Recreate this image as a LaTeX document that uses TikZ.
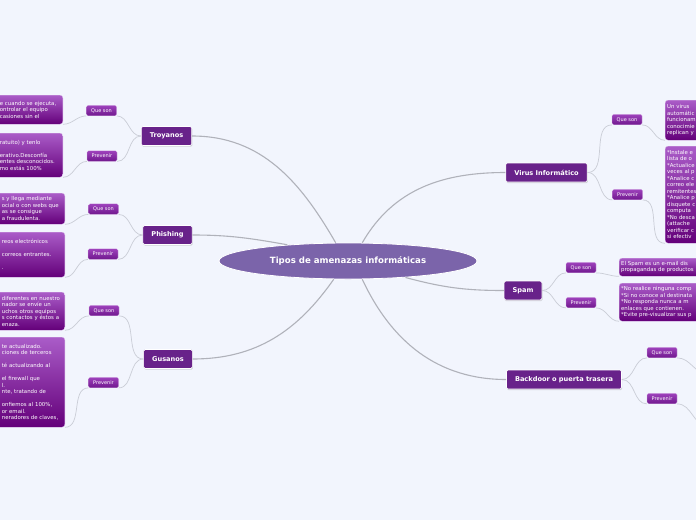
\documentclass[tikz,border=0pt]{standalone}
\usepackage{fontspec}
\setmainfont{DejaVu Sans}
\usetikzlibrary{shapes.geometric,shadows}
\definecolor{PageBg}{RGB}{242,245,253}
\definecolor{RootPurple}{RGB}{123,100,170}
\definecolor{TopicPurple}{RGB}{104,34,138}
\definecolor{TagTop}{RGB}{158,66,188}
\definecolor{TagBottom}{RGB}{112,24,142}
\definecolor{NoteTop}{RGB}{170,92,200}
\definecolor{NoteBottom}{RGB}{100,0,122}
\definecolor{TrunkGray}{RGB}{176,178,186}
\definecolor{TwigGray}{RGB}{202,205,214}

\begin{document}
\begin{tikzpicture}[x=1pt, y=1pt,
    root/.style={ellipse, fill=RootPurple, draw=white, line width=0.8pt, minimum width=258pt, minimum height=36pt, text=white, font=\fontsize{8.6}{10}\selectfont\bfseries},
    topic/.style={fill=TopicPurple, draw=white, line width=0.6pt, rounded corners=1.5pt, minimum height=19pt, inner xsep=8.5pt, text=white, font=\fontsize{6.6}{8}\selectfont\bfseries, drop shadow={shadow xshift=0.6pt, shadow yshift=-1.2pt, opacity=0.3}},
    tag/.style={top color=TagTop, bottom color=TagBottom, draw=white!60!TagTop, line width=0.3pt, rounded corners=1.5pt, minimum width=30pt, minimum height=10.5pt, inner sep=0pt, text=white, font=\fontsize{5}{6}\selectfont},
    note/.style={top color=NoteTop, bottom color=NoteBottom, draw=white!50!NoteTop, line width=0.3pt, rounded corners=3pt, align=left, inner xsep=2pt, inner ysep=2pt, text=white, font=\fontsize{5.4}{6.5}\selectfont},
    cutnote/.style={note, text width=75pt, execute at begin node={\leftskip=14pt}},
    opennote/.style={note, text width=95pt},
    trunk/.style={draw=TrunkGray, line width=1.1pt},
    twig/.style={draw=TwigGray, line width=0.7pt}]

    \fill[PageBg] (0,0) rectangle (696,-520);
    \useasboundingbox (0,0) rectangle (696,-520);
    \clip (0,0) rectangle (696,-520);

    \node[root] (root) at (348,-261) {Tipos de amenazas informáticas};

    \node[topic] (troy) at (166.5,-136) {Troyanos};
    \node[topic] (phish) at (167.5,-235) {Phishing};
    \node[topic] (gus) at (168,-359) {Gusanos};
    \node[topic] (virus) at (546.5,-172.5) {Virus Informático};
    \node[topic] (spam) at (523,-290.5) {Spam};
    \node[topic] (back) at (564,-379.5) {Backdoor o puerta trasera};

    \node[tag] (tq) at (101.5,-110.5) {Que son};
    \node[tag] (tp) at (102,-156) {Prevenir};
    \node[tag] (pq) at (103.5,-209) {Que son};
    \node[tag] (pp) at (103,-254) {Prevenir};
    \node[tag] (gq) at (104,-310.5) {Que son};
    \node[tag] (gp) at (103.5,-382.5) {Prevenir};
    \node[tag] (vq) at (627,-119.5) {Que son};
    \node[tag] (vp) at (627.5,-194.5) {Prevenir};
    \node[tag] (sq) at (581,-267.5) {Que son};
    \node[tag] (sp) at (581,-302.5) {Prevenir};
    \node[tag] (bq) at (662,-352.5) {Que son};
    \node[tag] (bp) at (662,-398.5) {Prevenir};

    % notes cut by the left edge
    \node[cutnote, anchor=north east, minimum height=29pt] (tt1) at (63,-95)
        {e cuando se ejecuta,\\ ontrolar el equipo\\ casiones sin el};
    \node[cutnote, anchor=north east, minimum height=44pt] (tt2) at (63,-133)
        {ratuito) y tenlo\\ \mbox{}\\ erativo.Desconfía\\ entes desconocidos.\\ mo estás 100\%};
    \node[cutnote, anchor=north east, minimum height=31pt] (pt1) at (65,-193)
        {s y llega mediante\\ ocial o con webs que\\ as se consigue\\ a fraudulenta.};
    \node[cutnote, anchor=north east, minimum height=45pt] (pt2) at (65,-232)
        {reos electrónicos\\ \mbox{}\\ correos entrantes.\\ \mbox{}\\ .};
    \node[cutnote, anchor=north east, minimum height=38pt] (gt1) at (65,-292)
        {diferentes en nuestro\\ nador se envíe un\\ uchos otros equipos\\ s contactos y éstos a\\ enaza.};
    \node[cutnote, anchor=north east, minimum height=90pt] (gt2) at (65,-337)
        {te actualizado.\\ ciones de terceros\\ \mbox{}\\ té actualizando al\\ \mbox{}\\ el firewall que\\ l.\\ nte, tratando de\\ \mbox{}\\ onfiemos al 100\%,\\ or email.\\ neradores de claves,};

    % notes cut by the right edge
    \node[opennote, anchor=north west, minimum height=40pt] (vt1) at (665,-100)
        {Un virus\\ automátic\\ funcionam\\ conocimie\\ replican y};
    \node[opennote, anchor=north west, minimum height=97pt] (vt2) at (665,-146)
        {*Instale e\\ lista de o\\{}*Actualice\\ veces al p\\{}*Analice c\\ correo ele\\ remitentes\\{}*Analice p\\ disquete c\\ computa\\{}*No desca\\ (attache\\ verificar c\\ si efectiv};
    \node[opennote, anchor=north west, minimum height=18pt] (st1) at (619,-258)
        {El Spam es un e-mail dis\\ propagandas de productos};
    \node[opennote, anchor=north west, minimum height=38pt] (st2) at (619,-283)
        {*No realice ninguna comp\\{}*Si no conoce al destinata\\{}*No responda nunca a m\\ enlaces que contienen.\\{}*Evite pre-visualizar sus p};
    \coordinate (bt1) at (708,-374);
    \coordinate (bt2) at (708,-426);

    \draw[trunk] (troy.east) to[out=0,in=120] (root.124);
    \draw[trunk] (phish.east) to[out=0,in=170] (root.165);
    \draw[trunk] (gus.east) to[out=0,in=235] (root.232);
    \draw[trunk] (virus.west) to[out=180,in=60] (root.52);
    \draw[trunk] (spam.west) to[out=180,in=-15] (root.-16);
    \draw[trunk] (back.west) to[out=180,in=-65] (root.-52);

    \draw[twig] (troy.west) to[out=180,in=0] (tq.south east);
    \draw[twig] (troy.west) to[out=180,in=0] (tp.south east);
    \draw[twig] (phish.west) to[out=180,in=0] (pq.south east);
    \draw[twig] (phish.west) to[out=180,in=0] (pp.south east);
    \draw[twig] (gus.west) to[out=180,in=0] (gq.south east);
    \draw[twig] (gus.west) to[out=180,in=0] (gp.south east);
    \draw[twig] (virus.east) to[out=0,in=180] (vq.south west);
    \draw[twig] (virus.east) to[out=0,in=180] (vp.south west);
    \draw[twig] (spam.east) to[out=0,in=180] (sq.south west);
    \draw[twig] (spam.east) to[out=0,in=180] (sp.south west);
    \draw[twig] (back.east) to[out=0,in=180] (bq.south west);
    \draw[twig] (back.east) to[out=0,in=180] (bp.south west);

    \draw[twig] (tq.south west) to[out=180,in=0] (tt1.south east);
    \draw[twig] (tp.south west) to[out=180,in=0] (tt2.south east);
    \draw[twig] (pq.south west) to[out=180,in=0] (pt1.south east);
    \draw[twig] (pp.south west) to[out=180,in=0] (pt2.south east);
    \draw[twig] (gq.south west) to[out=180,in=0] (gt1.south east);
    \draw[twig] (gp.south west) to[out=180,in=0] (gt2.south east);
    \draw[twig] (vq.south east) to[out=0,in=180] (vt1.south west);
    \draw[twig] (vp.south east) to[out=0,in=180] (vt2.south west);
    \draw[twig] (sq.south east) to[out=0,in=180] (st1.south west);
    \draw[twig] (sp.south east) to[out=0,in=180] (st2.south west);
    \draw[twig] (bq.south east) to[out=0,in=180] (bt1);
    \draw[twig] (bp.south east) to[out=0,in=180] (bt2);
\end{tikzpicture}
\end{document}
